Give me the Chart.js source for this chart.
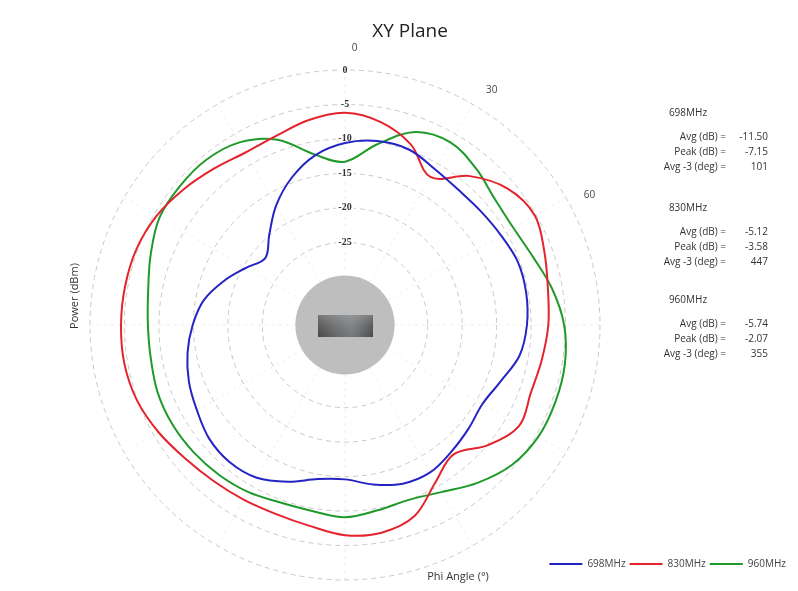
<!DOCTYPE html>
<html>
<head>
<meta charset="utf-8">
<script src="https://cdn.jsdelivr.net/npm/chart.js@4"></script>
<style>
html,body{margin:0;padding:0;background:#fff;}
#wrap{width:798px;height:591px;position:relative;}
</style>
</head>
<body>
<div id="wrap"><canvas id="c" width="798" height="591"></canvas></div>
<script>
// Angles (deg), every 10 degrees
const angles = ['0','10','20','30','40','50','60','70','80','90','100','110','120','130','140','150','160','170','180','190','200','210','220','230','240','250','260','270','280','290','300','310','320','330','340','350'];
const seriesNames = ['698MHz', '830MHz', '960MHz'];
const blueVals = [-10.6,-9.9,-9.9,-10.9,-11.4,-11.3,-10.9,-10.3,-10.3,-10.6,-11.3,-13.0,-14.0,-13.6,-13.0,-12.3,-12.5,-13.5,-14.6,-14.3,-12.8,-11.4,-11.0,-11.3,-12.2,-12.9,-13.8,-14.9,-16.2,-18.3,-20.4,-21.9,-19.9,-17.0,-14.3,-12.0];
const redVals = [-6.2,-7.1,-9.1,-12.2,-8.8,-6.2,-5.2,-6.2,-7.1,-7.5,-8.0,-8.3,-7.8,-9.9,-12.5,-10.7,-7.5,-6.4,-6.5,-7.4,-7.8,-7.7,-7.4,-6.8,-5.8,-4.9,-4.5,-4.5,-4.6,-4.8,-5.4,-6.4,-7.4,-8.1,-7.8,-6.8];
const greenVals = [-13.3,-10.4,-7.2,-6.4,-7.4,-8.6,-8.8,-8.0,-6.5,-5.2,-4.6,-4.5,-4.6,-5.4,-7.1,-9.0,-10.0,-9.7,-9.1,-9.6,-9.6,-9.0,-8.6,-8.3,-8.1,-8.1,-8.4,-8.4,-8.0,-7.0,-5.9,-5.7,-5.7,-6.4,-8.4,-11.9];
const radialTicks = [-35,-30,-25,-20,-15,-10,-5,0];
const angleTickLabels = ['0','30','60'];
const statsHeaders = ['698MHz','830MHz','960MHz'];
const statsLabels = ['Avg (dB) =','Peak (dB) =','Avg -3 (deg) ='];
const statsValues = [['-11.50','-7.15','101'],['-5.12','-3.58','447'],['-5.74','-2.07','355']];
const lineColors = ['#2424c4','#e4232d','#1f9a2a'];

const CX = 345, CY = 325, R = 255;

const geomPlugin = {
  id: 'geom',
  afterLayout(chart) {
    const s = chart.scales.r;
    s.xCenter = CX; s.yCenter = CY; s.drawingArea = R;
  },
  beforeDatasetsDraw(chart) {
    const ctx = chart.ctx, s = chart.scales.r;
    const rd = s.getDistanceFromCenterForValue(-29.8);
    ctx.save();
    ctx.beginPath();
    ctx.arc(s.xCenter, s.yCenter, rd, 0, Math.PI * 2);
    ctx.fillStyle = '#bebebe';
    ctx.fill();
    const g = ctx.createLinearGradient(0, s.yCenter - 11, 0, s.yCenter + 11);
    g.addColorStop(0, '#7a7a7a');
    g.addColorStop(0.5, '#5c5c5c');
    g.addColorStop(1, '#4a4a4a');
    ctx.fillStyle = g;
    ctx.fillRect(s.xCenter - 27, s.yCenter - 10, 55, 22);
    const g2 = ctx.createLinearGradient(s.xCenter - 27, 0, s.xCenter + 28, 0);
    g2.addColorStop(0, 'rgba(255,255,255,0)');
    g2.addColorStop(0.6, 'rgba(200,210,220,0.35)');
    g2.addColorStop(1, 'rgba(255,255,255,0)');
    ctx.fillStyle = g2;
    ctx.fillRect(s.xCenter - 27, s.yCenter - 10, 55, 22);
    ctx.restore();
  },
  afterDraw(chart) {
    const ctx = chart.ctx, s = chart.scales.r;
    ctx.save();
    // title
    ctx.fillStyle = '#222';
    ctx.font = '19px "Open Sans", sans-serif';
    ctx.textAlign = 'center';
    ctx.textBaseline = 'alphabetic';
    ctx.fillText('XY Plane', 410, 37);
    // angle labels
    ctx.font = '10px "Open Sans", sans-serif';
    ctx.fillStyle = '#444';
    ctx.textBaseline = 'middle';
    angleTickLabels.forEach((t) => {
      const a = (parseFloat(t) + 2) * Math.PI / 180;
      const rr = 277;
      ctx.fillText(t, s.xCenter + rr * Math.sin(a), s.yCenter - rr * Math.cos(a));
    });
    // axis titles
    ctx.font = '11px "Open Sans", sans-serif';
    ctx.fillStyle = '#333';
    ctx.fillText('Phi Angle (°)', 458, 577);
    ctx.save();
    ctx.translate(75, 296);
    ctx.rotate(-Math.PI / 2);
    ctx.fillText('Power (dBm)', 0, 0);
    ctx.restore();
    // stats
    const headY = [113, 208, 300];
    statsHeaders.forEach((h, i) => {
      ctx.font = '10px "Open Sans", sans-serif';
      ctx.textAlign = 'center';
      ctx.fillStyle = '#333';
      ctx.fillText(h, 688, headY[i]);
      statsLabels.forEach((l, j) => {
        const y = headY[i] + 24 + j * 15;
        ctx.textAlign = 'right';
        ctx.fillText(l, 726, y);
        ctx.fillText(statsValues[i][j], 768, y);
      });
    });
    ctx.restore();
  }
};

const datasets = [blueVals, redVals, greenVals].map((v, i) => ({
  label: seriesNames[i],
  data: v,
  borderColor: lineColors[i],
  backgroundColor: lineColors[i],
  borderWidth: 2,
  fill: false,
  pointRadius: 0,
  tension: 0.35,
  clip: false
}));

new Chart(document.getElementById('c'), {
  type: 'radar',
  data: { labels: angles, datasets },
  options: {
    responsive: false,
    animation: false,
    layout: { padding: { bottom: 12, right: 8 } },
    plugins: {
      title: { display: false },
      tooltip: { enabled: false },
      legend: {
        position: 'bottom',
        align: 'end',
        labels: {
          boxWidth: 33,
          boxHeight: 2,
          padding: 4,
          color: '#444',
          font: { size: 10, family: '"Open Sans", sans-serif' },
          generateLabels: (chart) => Chart.defaults.plugins.legend.labels.generateLabels(chart).map(l => Object.assign(l, { lineWidth: 0 }))
        }
      }
    },
    scales: {
      r: {
        min: -37,
        max: 0,
        afterBuildTicks: (scale) => { scale.ticks = radialTicks.map(v => ({ value: v })); },
        ticks: {
          color: '#333',
          font: { size: 10, family: '"Liberation Serif", serif', weight: 'bold' },
          backdropColor: '#fff',
          backdropPadding: 2,
          callback: (v) => (v < -25 ? '' : String(v))
        },
        grid: {
          circular: true,
          color: '#c8c8c8',
          lineWidth: 1
        },
        border: { dash: [5, 4] },
        angleLines: {
          display: true,
          color: (ctx) => (ctx.index % 3 === 0 ? 'rgba(0,0,0,0.07)' : 'rgba(0,0,0,0)'),
          borderDash: [3, 4]
        },
        pointLabels: { display: false }
      }
    }
  },
  plugins: [geomPlugin]
});
</script>
</body>
</html>
